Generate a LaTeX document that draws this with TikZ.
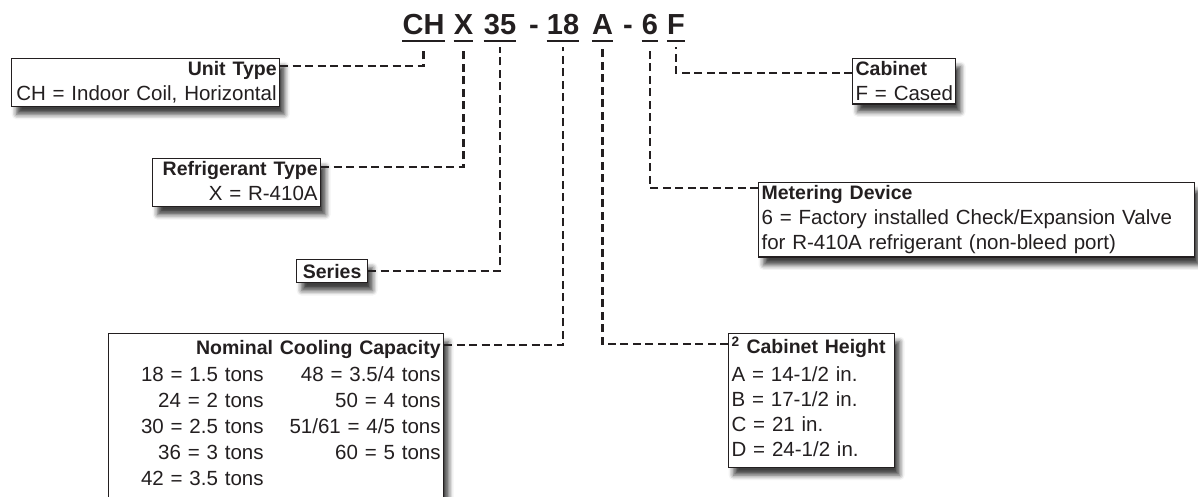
\documentclass[tikz,border=0pt]{standalone}
\usepackage{fontspec}
\setmainfont{Liberation Sans}
\usetikzlibrary{shadows.blur}
\definecolor{inkgray}{HTML}{231F20}
\newcommand{\hd}[1]{{\fontsize{19.5}{25}\selectfont\bfseries #1}}
\tikzset{
  code/.style={font=\fontsize{29}{29}\selectfont\bfseries, text=inkgray, inner sep=0pt, anchor=base, text depth=0pt},
  ubar/.style={draw=inkgray, line width=2pt},
  leader/.style={draw=inkgray, line width=2.6pt, dash pattern=on 8pt off 4.5pt},
  infobox/.style={draw=inkgray, line width=1.2pt, fill=white, inner xsep=3pt, inner ysep=3pt,
    anchor=north west, text=inkgray, font=\fontsize{20.5}{25}\selectfont,
    blur shadow={shadow xshift=5pt, shadow yshift=-8pt, shadow blur radius=5pt, shadow opacity=75}}
}
\begin{document}
\begin{tikzpicture}[x=1pt,y=-1pt]
\useasboundingbox (0,0) rectangle (1198,496);
% model number
\node[code] (ch) at (423.5,34) {CH};
\node[code] (x) at (463.5,34) {X};
\node[code] (ser) at (500,34) {35};
\node[code] (d1) at (534,34) {-};
\node[code] (cap) at (563,34) {18};
\node[code] (hgt) at (602.5,34) {A};
\node[code] (d2) at (628,34) {-};
\node[code] (mtr) at (650,34) {6};
\node[code] (cab) at (676,34) {F};
\foreach \n in {ch,x,ser,cap,hgt,mtr,cab}
  \draw[ubar] ([yshift=-7pt]\n.south west) -- ([yshift=-7pt]\n.south east);
% boxes
\node[infobox, align=right, text width=262pt] (unit) at (11,58) {\hd{Unit Type}\\\mbox{CH = Indoor Coil, Horizontal}};
\node[infobox, align=right, text width=162pt] (refr) at (152,158) {\hd{Refrigerant Type}\\X = R-410A\rule[-3pt]{0pt}{3pt}};
\node[infobox, align=center, text width=65pt, minimum height=23pt] (series) at (296,259) {\hd{Series}};
\node[infobox, align=right, text width=329pt] (nom) at (108,333) {\renewcommand\arraystretch{1.04}%
\begin{tabular}{@{}r@{\hspace{26pt}}r@{}}
  \multicolumn{2}{@{}r@{}}{\hd{Nominal Cooling Capacity}}\\[1pt]
  18 = 1.5 tons & 48 = 3.5/4 tons\\
  24 = 2 tons & 50 = 4 tons\\
  30 = 2.5 tons & 51/61 = 4/5 tons\\
  36 = 3 tons & 60 = 5 tons\\
  42 = 3.5 tons & \\[8pt]
\end{tabular}};
\node[infobox, align=left, text width=97pt] (cabt) at (852,58) {\hd{Cabinet}\\\mbox{F = Cased}};
\node[infobox, align=left, text width=430pt] (metr) at (758,182) {\hd{Metering Device}\\\mbox{6 = Factory installed Check/Expansion Valve}\\\mbox{for R-410A refrigerant (non-bleed port)}};
\node[infobox, align=left, text width=160pt] (cabh) at (728,333) {\hd{\textsuperscript{2} Cabinet Height}\\[3pt]A = 14-1/2 in.\\B = 17-1/2 in.\\C = 21 in.\\D = 24-1/2 in.\strut};
% leaders
\draw[leader] ([yshift=-8pt]unit.north east) -| ([yshift=-13pt]ch.south);
\draw[leader] ([yshift=-9pt]refr.north east) -| ([yshift=-13pt]x.south);
\draw[leader] (series.east) -| ([yshift=-13pt]ser.south);
\draw[leader] ([yshift=-12pt]nom.north east) -| ([yshift=-13pt]cap.south);
\draw[leader] ([yshift=-11pt]cabh.north west) -| ([yshift=-13pt]hgt.south);
\draw[leader] ([yshift=-6pt]metr.north west) -| ([yshift=-13pt]mtr.south);
\draw[leader] ([yshift=-15pt]cabt.north west) -| ([yshift=-13pt]cab.south);
\end{tikzpicture}
\end{document}
